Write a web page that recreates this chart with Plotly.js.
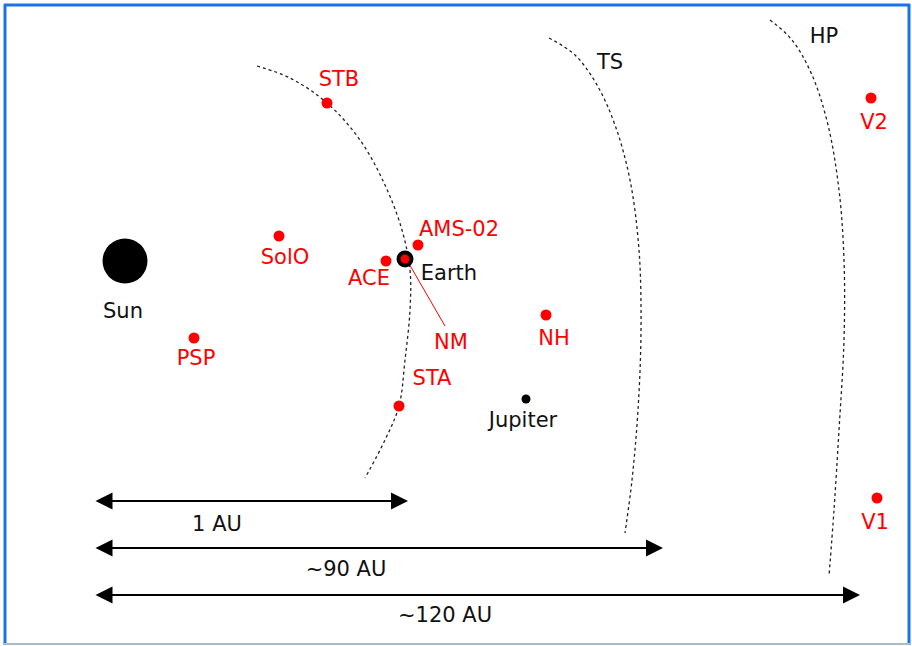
<!DOCTYPE html>
<html><head><meta charset="utf-8">
<script src="https://cdn.plot.ly/plotly-3.0.1.min.js"></script>
<style>html,body{margin:0;padding:0;background:#fff}#c{width:912px;height:646px}</style>
</head><body><div id="c"></div>
<script>
// Spacecraft (red dots)
const craftNames = ["PSP","SolO","STB","ACE","AMS-02","STA","NH","V2","V1"];
const craftX = [194, 279, 327, 386, 418, 399, 546, 871, 877];
const craftY = [338, 236, 103, 261, 245, 406, 315, 98, 498];
const craftLabelX = [196, 285, 339, 369, 459, 432, 554, 874, 875];
const craftLabelY = [360, 259, 81, 280, 231, 380, 340, 124, 524];
// Bodies
const bodyNames = ["Sun","Earth","Jupiter"];
const bodyX = [125, 405, 526];
const bodyY = [261, 259, 399];
const bodyLabelX = [123, 449, 523];
const bodyLabelY = [313, 275, 422];
// NM (neutron monitors) pointer
const nmX = [408, 445];
const nmY = [262, 326];
const nmLabel = {x: 451, y: 344, text: "NM"};
// Boundaries (dotted arcs)
const orbitX = [257, 290, 327, 360, 385, 402, 410, 410, 405, 399, 385, 365];
const orbitY = [66, 78, 103, 140, 185, 230, 270, 310, 360, 406, 440, 478];
const tsX = [549, 575, 597, 615, 630, 639, 641, 638, 632, 625];
const tsY = [38, 55, 85, 125, 180, 250, 330, 410, 480, 533];
const hpX = [770, 792, 812, 828, 839, 844, 844, 839, 834, 829];
const hpY = [20, 40, 75, 125, 190, 260, 340, 430, 510, 576];
const boundaryLabels = ["TS","HP"];
const boundaryLabelX = [610, 824];
const boundaryLabelY = [64, 38];
// Distance arrows
const arrowLabels = ["1 AU","~90 AU","~120 AU"];
const arrowStartX = [94, 94, 94];
const arrowEndX = [408, 663, 860];
const arrowY = [501, 548, 595];
const arrowLabelX = [217, 346, 445];
const arrowLabelY = [526, 571, 617];

const F = "DejaVu Sans, sans-serif";
const FS = 21;
const red = "#ff0000";

const traces = [
  {x: orbitX, y: orbitY, mode: "lines", line: {color: "#222", width: 1.3, dash: "dot", shape: "spline"}, hoverinfo: "skip"},
  {x: tsX, y: tsY, mode: "lines", line: {color: "#222", width: 1.3, dash: "dot", shape: "spline"}, hoverinfo: "skip"},
  {x: hpX, y: hpY, mode: "lines", line: {color: "#222", width: 1.3, dash: "dot", shape: "spline"}, hoverinfo: "skip"},
  {x: nmX, y: nmY, mode: "lines", line: {color: red, width: 1}, hoverinfo: "skip"},
  // Sun
  {x: [bodyX[0]], y: [bodyY[0]], mode: "markers", marker: {color: "#000", size: 45}, hoverinfo: "skip"},
  // Earth ring
  {x: [bodyX[1]], y: [bodyY[1]], mode: "markers", marker: {color: "#000", size: 17}, hoverinfo: "skip"},
  {x: [bodyX[1]], y: [bodyY[1]], mode: "markers", marker: {color: red, size: 9}, hoverinfo: "skip"},
  // Jupiter
  {x: [bodyX[2]], y: [bodyY[2]], mode: "markers", marker: {color: "#000", size: 9}, hoverinfo: "skip"},
  // craft
  {x: craftX, y: craftY, mode: "markers", marker: {color: red, size: 11}, hoverinfo: "skip"},
  {x: craftLabelX, y: craftLabelY, text: craftNames, mode: "text", textposition: "middle center",
   textfont: {family: F, size: FS, color: red}, hoverinfo: "skip"},
  {x: [nmLabel.x], y: [nmLabel.y], text: [nmLabel.text], mode: "text", textposition: "middle center",
   textfont: {family: F, size: FS, color: red}, hoverinfo: "skip"},
  {x: bodyLabelX, y: bodyLabelY, text: bodyNames, mode: "text", textposition: "middle center",
   textfont: {family: F, size: FS, color: "#111"}, hoverinfo: "skip"},
  {x: boundaryLabelX, y: boundaryLabelY, text: boundaryLabels, mode: "text", textposition: "middle center",
   textfont: {family: F, size: FS, color: "#111"}, hoverinfo: "skip"},
  {x: arrowLabelX, y: arrowLabelY, text: arrowLabels, mode: "text", textposition: "middle center",
   textfont: {family: F, size: FS, color: "#111"}, hoverinfo: "skip"}
];

const annotations = arrowY.map((y, i) => ({
  x: arrowEndX[i], y: y, ax: arrowStartX[i], ay: y,
  xref: "x", yref: "y", axref: "x", ayref: "y",
  text: "", showarrow: true, arrowhead: 2, startarrowhead: 2, arrowside: "end+start",
  arrowsize: 1.7, startarrowsize: 1.7, arrowwidth: 2, arrowcolor: "#000"
}));

const shapes = [
  {type: "line", xref: "x", yref: "y", x0: 5, x1: 5, y0: 4, y1: 645, line: {color: "#1a73e8", width: 3}},
  {type: "line", xref: "x", yref: "y", x0: 4, x1: 910, y0: 5, y1: 5, line: {color: "#1a73e8", width: 3}},
  {type: "line", xref: "x", yref: "y", x0: 909, x1: 909, y0: 4, y1: 645, line: {color: "#1a73e8", width: 3}},
  {type: "line", xref: "x", yref: "y", x0: 4, x1: 910, y0: 644, y1: 644, line: {color: "#a9bccc", width: 2}}
];

const layout = {
  width: 912, height: 646,
  margin: {l: 0, r: 0, t: 0, b: 0},
  paper_bgcolor: "#fff", plot_bgcolor: "#fff",
  showlegend: false,
  xaxis: {range: [0, 912], visible: false, fixedrange: true},
  yaxis: {range: [646, 0], visible: false, fixedrange: true},
  annotations: annotations,
  shapes: shapes
};

Plotly.newPlot("c", traces, layout, {displayModeBar: false, staticPlot: true});
</script></body></html>
